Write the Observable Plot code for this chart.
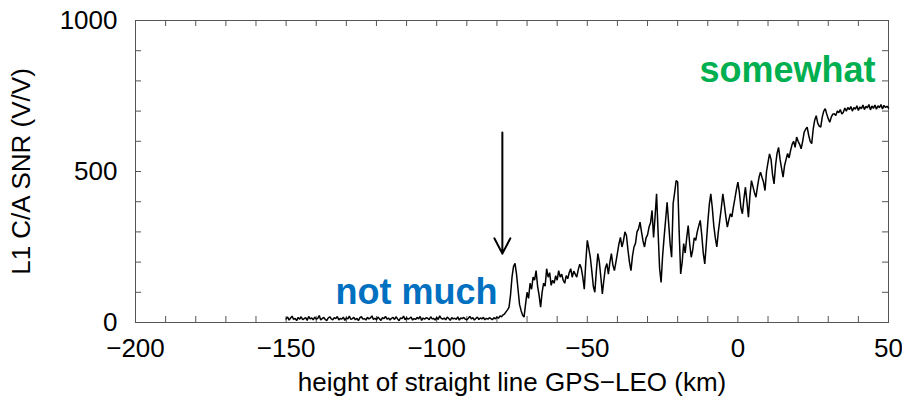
<!DOCTYPE html>
<html><head><meta charset="utf-8">
<script src="https://cdn.jsdelivr.net/npm/d3@7"></script>
<script src="https://cdn.jsdelivr.net/npm/@observablehq/plot@0.6"></script>
<style>body{margin:0;background:#fff}</style>
</head><body><div id="chart"></div>
<script>
// Axis ticks
const xTicks = [-200, -150, -100, -50, 0, 50];
const yTicks = [0, 500, 1000];
const xMinorTicks = [-200,-190,-180,-170,-160,-150,-140,-130,-120,-110,-100,-90,-80,-70,-60,-50,-40,-30,-20,-10,0,10,20,30,40,50];
const yMinorTicks = [0,100,200,300,400,500,600,700,800,900,1000];

// SNR samples, flat part (every 0.5 km starting at -150 km)
const flatStart = -150, flatStep = 0.5;
const flatSnr = [
12,18,8,15,21,10,14,6,17,11,
19,9,13,16,7,20,12,15,9,18,
11,14,23,8,13,17,10,6,15,19,
12,9,16,13,20,8,14,11,18,7,
15,12,21,10,13,17,9,14,6,16,
19,11,13,8,17,12,15,22,10,14,
9,18,12,7,16,13,20,11,15,8,
14,17,10,19,12,6,15,13,21,9,
16,11,14,18,8,13,10,17,12,20,
7,15,11,16,14,9,19,12,13,8,
17,10,22,14,11,15,9,18,13,7,
16,12,14,10,19,8,15,13,17,11,
9,14,20,12,16,8,13,18,10,15,
12,17,9,14,11,16];

// SNR samples, rising part (every 0.5 km starting at -82 km)
const riseStart = -82, riseStep = 0.5;
const riseSnr = [
13,9,16,12,18,14,22,19,25,28,
35,42,50,90,150,185,196,160,110,60,
40,25,18,60,100,80,130,110,150,140,
172,120,90,51,100,130,120,178,150,165,
123,140,130,155,140,172,150,160,140,130,
155,145,165,178,150,170,160,150,175,193,
180,150,110,200,272,245,216,170,120,100,
170,228,200,150,95,140,180,195,160,200,
228,190,172,200,230,260,282,250,270,300,
288,240,200,172,220,250,262,300,310,332,
300,270,250,280,290,316,330,371,282,350,
426,300,180,133,220,282,340,398,330,260,
216,394,430,470,465,300,161,200,261,230,
280,321,260,216,240,280,272,300,320,338,
290,230,194,260,330,390,426,380,320,280,
250,300,340,380,426,390,350,316,340,360,
350,382,410,440,465,430,380,360,410,448,
400,349,420,470,450,430,415,450,480,498,
481,465,437,500,530,558,540,490,459,520,
560,580,540,510,481,520,540,560,545,570,
590,600,580,614,600,590,575,600,630,640,
647,620,600,592,640,670,685,660,650,647,
680,700,708,690,675,663,680,690,691,685,
700,695,705,690,696,710,700,712,705,715,
700,712,706,718,702,714,708,720,705,716,
710,722,704,717,709,720,706,718,711,722,
707,719,712,716,710];

// Annotations
const arrowKm = -78.2, arrowFrom = 629, arrowTo = 228;
const notes = [
  {km: -79.8, snr: 101, text: "not much", color: "#0070C0"},
  {km: 45.7, snr: 834, text: "somewhat", color: "#00B050"}
];

const series = [
  ...flatSnr.map((v, i) => ({km: flatStart + i * flatStep, snr: v})),
  ...riseSnr.map((v, i) => ({km: riseStart + i * riseStep, snr: v}))
];

const font = "'Liberation Sans', Arial, Helvetica, sans-serif";
const fmt = d3.format("d");
const W = 902, H = 397, mL = 135, mR = 14, mT = 20, mB = 75;
const tickLen = 6;
const innerW = W - mL - mR, innerH = H - mT - mB;
const chart = Plot.plot({
  width: W, height: H,
  marginLeft: mL, marginRight: mR, marginTop: mT, marginBottom: mB,
  x: {domain: [-200, 50]},
  y: {domain: [0, 1000]},
  style: {fontFamily: font, fontSize: "26px", color: "#000", background: "#fff", overflow: "visible"},
  marks: [
    // inward ticks on all four sides
    Plot.tickX(xMinorTicks, {x: d => d, insetTop: innerH - tickLen, stroke: "#555"}),
    Plot.tickX(xMinorTicks, {x: d => d, insetBottom: innerH - tickLen, stroke: "#555"}),
    Plot.tickY(yMinorTicks, {y: d => d, insetRight: innerW - tickLen, stroke: "#555"}),
    Plot.tickY(yMinorTicks, {y: d => d, insetLeft: innerW - tickLen, stroke: "#555"}),
    Plot.axisX({anchor: "bottom", ticks: xTicks, tickSize: 0, tickPadding: 16, fontSize: 26, tickFormat: fmt,
      label: "height of straight line GPS−LEO (km)", labelAnchor: "center", labelOffset: 68, labelArrow: "none"}),
    Plot.axisY({anchor: "left", ticks: yTicks, tickSize: 0, tickPadding: 18, fontSize: 26, tickFormat: fmt,
      label: "L1 C/A SNR (V/V)", labelAnchor: "center", labelOffset: 124, labelArrow: "none"}),
    Plot.frame({stroke: "#555"}),
    Plot.line(series, {x: "km", y: "snr", stroke: "#000", strokeWidth: 1.5, strokeLinejoin: "miter"}),
    Plot.arrow([{x1: arrowKm, y1: arrowFrom, x2: arrowKm, y2: arrowTo}],
      {x1: "x1", y1: "y1", x2: "x2", y2: "y2", stroke: "#000", strokeWidth: 2, headLength: 13, headAngle: 55}),
    Plot.text(notes, {x: "km", y: "snr", text: "text", fill: "color", textAnchor: "end",
      fontSize: 36, fontWeight: "bold", fontFamily: font})
  ]
});
document.getElementById("chart").appendChild(chart);
</script>
</body></html>
